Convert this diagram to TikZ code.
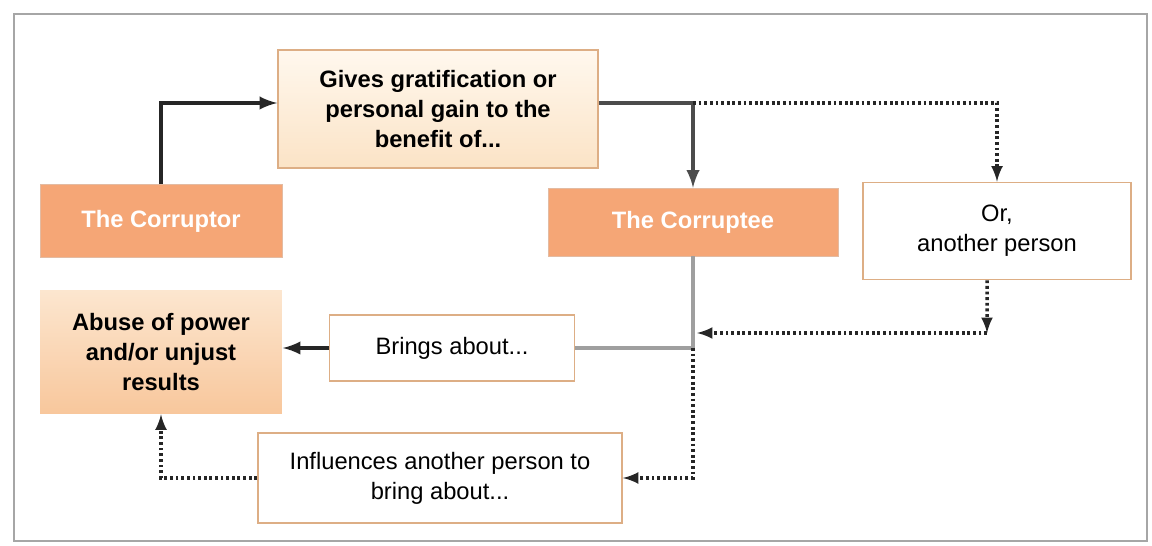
\documentclass[tikz,border=0pt]{standalone}
\usepackage{fontspec}
\setmainfont{Liberation Sans}
\usepackage{xcolor}
\usepackage{tikz}

\definecolor{corrorange}{HTML}{F5A676}
\definecolor{boxedge}{HTML}{DDAE85}
\definecolor{creamtop}{HTML}{FFF8EE}
\definecolor{creambot}{HTML}{FBE3C6}
\definecolor{abusetop}{HTML}{FCE6CF}
\definecolor{abusebot}{HTML}{F8C79C}

\begin{document}
\begin{tikzpicture}[x=0.02cm, y=-0.02cm,
        party/.style={fill=corrorange, draw=corrorange!85!black!60, text=white, font=\bfseries\fontsize{13.5}{16}\selectfont, inner sep=0pt},
        actbox/.style={draw=boxedge, line width=1pt, fill=white, align=center, font=\fontsize{13.5}{17}\selectfont, inner sep=0pt},
        solidarrow/.style={-latex, line width=2.4pt, black!85},
        dotarrow/.style={-latex, line width=2pt, dash pattern=on 1.6pt off 1.6pt, black!85}]
        \useasboundingbox (0,0) rectangle (1152,546);
        % Draw the frame
        \draw[gray!70, line width=0.9pt] (14,14) rectangle (1147,541);
        % Draw the boxes
        \node[party, minimum width=4.84cm, minimum height=1.46cm] (corruptor) at (161,221) {The Corruptor};
        \node[actbox, font=\bfseries\fontsize{13.5}{17}\selectfont, top color=creamtop, bottom color=creambot, minimum width=6.4cm, minimum height=2.36cm] (gives) at (438,109) {Gives gratification or\\personal gain to the\\benefit of...};
        \node[party, minimum width=5.8cm, minimum height=1.36cm] (corruptee) at (693,222) {The Corruptee};
        \node[actbox, minimum width=5.36cm, minimum height=1.94cm] (other) at (997,231) {Or,\\another person};
        \node[actbox, draw=none, font=\bfseries\fontsize{13.5}{17}\selectfont, top color=abusetop, bottom color=abusebot, minimum width=4.84cm, minimum height=2.46cm] (abuse) at (161,352) {Abuse of power\\and/or unjust\\results};
        \node[actbox, minimum width=4.9cm, minimum height=1.32cm] (brings) at (452,348) {Brings about...};
        \node[actbox, minimum width=7.28cm, minimum height=1.8cm] (influences) at (440,478) {Influences another person to\\bring about...};
        % Points where the lines turn
        \coordinate (fork) at (693,103);
        \coordinate (bend) at (693,348);
        \coordinate (ordown) at (987,333);
        \coordinate (join) at (697,333);
        % Draw arrows
        \draw[solidarrow] (corruptor.north) |- ([yshift=0.12cm]gives.west);
        \draw[solidarrow, black!70] ([yshift=0.12cm]gives.east) -| (corruptee.north);
        \draw[dotarrow] (fork) -| (other.north);
        \draw[dotarrow] ([xshift=-0.2cm]other.south) -- (ordown);
        \draw[dotarrow] (ordown) -- (join);
        \draw[gray!75, line width=2.2pt] (corruptee.south) -- (bend) -- (brings.east);
        \draw[solidarrow] (brings.west) -- (abuse.east |- brings.west);
        \draw[dotarrow] (bend) |- (influences.east);
        \draw[dotarrow] (influences.west) -| (abuse.south);
        \end{tikzpicture}
\end{document}
